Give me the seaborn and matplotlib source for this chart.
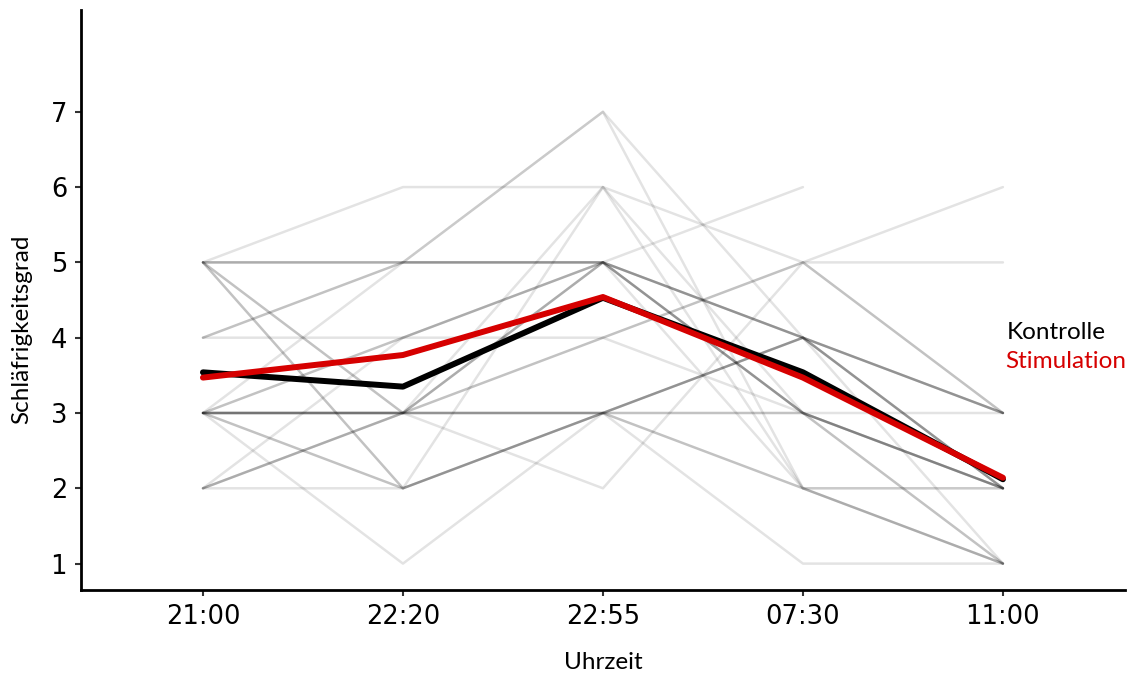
import numpy as np
import pandas as pd
import seaborn as sns
import matplotlib.pyplot as plt

# time points and labels
times = ["21:00", "22:20", "22:55", "07:30", "11:00"]

# group means
mean_kontrolle = [3.54, 3.35, 4.53, 3.54, 2.12]
mean_stimulation = [3.47, 3.77, 4.54, 3.47, 2.14]

# individual ratings, darker group
kontrolle_subj = [
    [5, 5, 5, 4, 3],
    [4, 5, 5, 3, 2],
    [5, 3, 5, 3, 1],
    [3, 3, 3, 4, 3],
    [3, 3, 3, 4, 2],
    [3, 4, 5, 4, 2],
    [5, 2, 3, 3, 2],
    [3, 2, 3, 2, 1],
    [2, 3, 4, 5, 3],
]

# individual ratings, lighter group
stimulation_subj = [
    [5, 6, 6, 3, 3],
    [4, 4, 4, 3, 2],
    [2, 2, 6, 2, 2],
    [3, 1, 3, 1, 1],
    [3, 5, 7, 2, 1],
    [2, 4, 5, 6, np.nan],
    [5, 5, 7, 4, 1],
    [3, 3, 6, 5, 5],
    [2, 3, 2, 5, 6],
    [3, 3, 5, 2, 2],
]

def to_long(rows, group):
    recs = []
    for i, r in enumerate(rows):
        for j, v in enumerate(r):
            recs.append({"subject": f"{group}{i}", "group": group, "pos": j, "wert": v})
    return pd.DataFrame(recs).dropna()

df_k = to_long(kontrolle_subj, "Kontrolle")
df_s = to_long(stimulation_subj, "Stimulation")

df_mean = pd.DataFrame({
    "pos": list(range(len(times))) * 2,
    "wert": mean_kontrolle + mean_stimulation,
    "group": ["Kontrolle"] * len(times) + ["Stimulation"] * len(times),
})

sns.set_style("white")
plt.rcParams["font.family"] = ["DejaVu Sans"]

fig = plt.figure(figsize=(11.34, 6.75), dpi=100)
ax = fig.add_axes([0.0714, 0.126, 0.9206, 0.859])

sns.lineplot(data=df_s, x="pos", y="wert", units="subject", estimator=None,
             color="black", alpha=0.11, linewidth=1.8, ax=ax, legend=False)
sns.lineplot(data=df_k, x="pos", y="wert", units="subject", estimator=None,
             color="black", alpha=0.24, linewidth=1.8, ax=ax, legend=False)

sns.lineplot(data=df_mean, x="pos", y="wert", hue="group",
             palette={"Kontrolle": "black", "Stimulation": "#d60000"},
             linewidth=4.3, ax=ax, legend=False)

ax.set_xlim(-0.61, 4.61)
ax.set_ylim(0.65, 8.35)
ax.set_xticks(range(len(times)))
ax.set_xticklabels(times)
ax.set_yticks(range(1, 8))

for s in ["top", "right"]:
    ax.spines[s].set_visible(False)
for s in ["left", "bottom"]:
    ax.spines[s].set_color("black")
    ax.spines[s].set_linewidth(2)

ax.tick_params(axis="both", which="major", direction="out", length=4, width=1.5,
               color="#333333", labelsize=18.5, labelcolor="black", pad=6,
               left=True, bottom=True)

ax.set_xlabel("Uhrzeit", family="Lato", fontsize=17.5, color="black", labelpad=16)
ax.set_ylabel("Schläfrigkeitsgrad", family="Lato", fontsize=17.5, color="black")
# y label sits a bit below the middle of the axis in the original
ax.yaxis.set_label_coords(-0.047, 0.45)

# legend as coloured text labels
ax.text(4.02, 4.07, "Kontrolle", family="Lato", fontsize=17.5, color="black",
        va="center", ha="left", clip_on=False)
ax.text(4.01, 3.69, "Stimulation", family="Lato", fontsize=17.5, color="#d60000",
        va="center", ha="left", clip_on=False)

fig.savefig("out.png", dpi=100)
